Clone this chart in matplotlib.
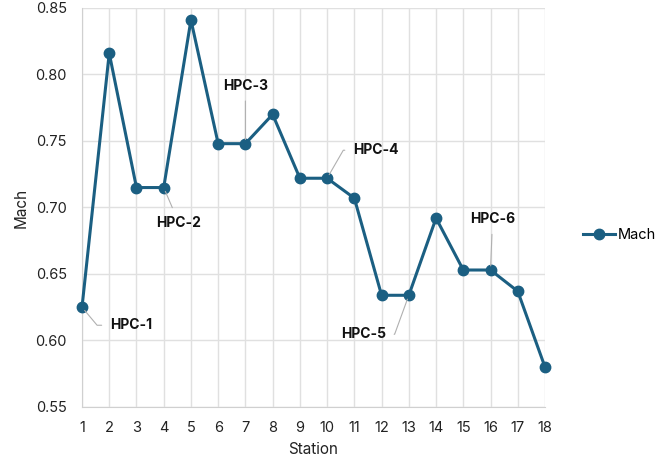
import matplotlib
matplotlib.use("Agg")
import matplotlib.pyplot as plt

stations = list(range(1, 19))
mach = [0.625, 0.816, 0.715, 0.715, 0.841, 0.748, 0.748, 0.770, 0.722,
        0.722, 0.707, 0.634, 0.634, 0.692, 0.653, 0.653, 0.637, 0.580]
labels = ["HPC-1", "HPC-2", "HPC-3", "HPC-4", "HPC-5", "HPC-6"]
label_stations = [1, 4, 7, 10, 13, 16]
yticks = [0.55, 0.60, 0.65, 0.70, 0.75, 0.80, 0.85]

plt.rcParams['font.family'] = ['Inter', 'DejaVu Sans']
color = '#1b5f82'
fig = plt.figure(figsize=(6.56, 4.67), dpi=100)
ax = fig.add_axes([82/656, 1-407/467, (545-82)/656, (407-8)/467])

ax.plot(stations, mach, color=color, lw=2.2, marker='o', ms=7.5, label='Mach', zorder=3, clip_on=False)
ax.set_xlim(1, 18)
ax.set_ylim(0.55, 0.85)
ax.set_xticks(stations)
ax.set_yticks(yticks)
ax.set_yticklabels([f"{v:.2f}" for v in yticks])
ax.grid(True, color='#e0e0e0', lw=1)
ax.set_axisbelow(True)
for s in ['top', 'right']:
    ax.spines[s].set_visible(False)
for s in ['left', 'bottom']:
    ax.spines[s].set_color('#d0d0d0')
ax.tick_params(axis='both', length=0, labelsize=10.5, colors='#222222')
ax.tick_params(axis='x', pad=10)
ax.tick_params(axis='y', pad=11)
ax.set_xlabel('Station', fontsize=11, labelpad=5, color='#222222')
ax.set_ylabel('Mach', fontsize=11, labelpad=5, color='#222222')

# offsets in pixels (text anchor relative to point), alignment, connection style
specs = {
    "HPC-1": ((28, -18), 'left', 'angle,angleA=0,angleB=-50'),
    "HPC-2": ((15, -35), 'center', 'arc3'),
    "HPC-3": ((0, 58), 'center', 'arc3'),
    "HPC-4": ((26, 28), 'left', 'angle,angleA=0,angleB=60'),
    "HPC-5": ((-23, -39), 'right', 'angle,angleA=0,angleB=70'),
    "HPC-6": ((2, 51), 'center', 'arc3'),
}
for lab, st in zip(labels, label_stations):
    (dx, dy), ha, cs = specs[lab]
    ax.annotate(lab, xy=(st, mach[st-1]), xytext=(dx, dy), textcoords='offset pixels',
                ha=ha, va='center', fontsize=10, fontweight='bold', color='#111111',
                arrowprops=dict(arrowstyle='-', color='#b0b0b0', lw=0.8,
                                shrinkA=4, shrinkB=3, connectionstyle=cs),
                zorder=4)

fig.legend(loc='center left', bbox_to_anchor=(570/656, 1-235/467), frameon=False,
           fontsize=10.5, handlelength=2.2, handletextpad=0.2)

fig.savefig('out.png', dpi=100)
